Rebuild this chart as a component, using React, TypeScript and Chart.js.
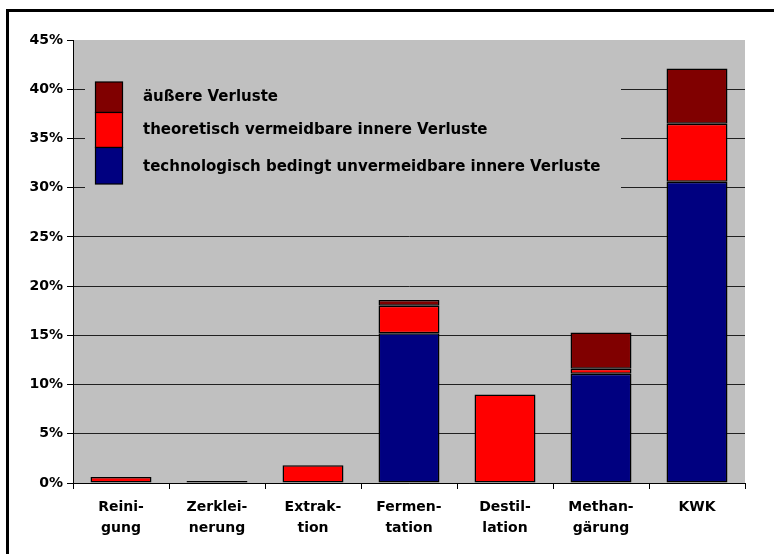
import React, { useEffect, useRef } from 'react';
import { Chart, registerables } from 'chart.js';
Chart.register(...registerables);

const categories: string[][] = [
  ['Reini-', 'gung'],
  ['Zerklei-', 'nerung'],
  ['Extrak-', 'tion'],
  ['Fermen-', 'tation'],
  ['Destil-', 'lation'],
  ['Methan-', 'gärung'],
  ['KWK'],
];
const labelTechnologisch = 'technologisch bedingt unvermeidbare innere Verluste';
const labelTheoretisch = 'theoretisch vermeidbare innere Verluste';
const labelAeussere = 'äußere Verluste';

const technologisch: (number | null)[] = [null, null, null, 15.2, null, 11.1, 30.6];
const theoretisch: (number | null)[] = [0.6, 0.2, 1.8, 2.8, 9.0, 0.5, 5.9];
const aeussere: (number | null)[] = [null, null, null, 0.6, null, 3.7, 5.6];

const yMin = 0;
const yMax = 45;
const yStep = 5;

const FONT = '"DejaVu Sans", Verdana, sans-serif';

const framePlugin = {
  id: 'frame',
  beforeDraw(chart: any) {
    const { ctx, width, height, chartArea } = chart;
    ctx.save();
    ctx.fillStyle = '#ffffff';
    ctx.fillRect(0, 0, width, height);
    ctx.strokeStyle = '#000000';
    ctx.lineWidth = 3;
    ctx.strokeRect(7.5, 10.5, width + 20, height + 20);
    ctx.fillStyle = '#c0c0c0';
    ctx.fillRect(chartArea.left, chartArea.top, chartArea.right - chartArea.left, chartArea.bottom - chartArea.top);
    ctx.restore();
  },
};

const legendPlugin = {
  id: 'stackLegend',
  afterDatasetsDraw(chart: any) {
    const { ctx } = chart;
    const ds = chart.data.datasets;
    ctx.save();
    ctx.fillStyle = '#c0c0c0';
    ctx.fillRect(85, 72, 536, 123);
    const rows = [
      { i: 2, top: 82, bottom: 112.5, ty: 97 },
      { i: 1, top: 112.5, bottom: 147.5, ty: 130 },
      { i: 0, top: 147.5, bottom: 184, ty: 167 },
    ];
    ctx.font = `bold 15px ${FONT}`;
    ctx.textBaseline = 'middle';
    ctx.textAlign = 'left';
    for (const r of rows) {
      ctx.fillStyle = ds[r.i].backgroundColor;
      ctx.fillRect(95, r.top, 27, r.bottom - r.top);
      ctx.strokeStyle = '#000';
      ctx.lineWidth = 1.2;
      ctx.strokeRect(95.5, r.top, 27, r.bottom - r.top);
      ctx.fillStyle = '#000';
      ctx.fillText(ds[r.i].label, 143, r.ty);
    }
    ctx.restore();
  },
};

export default function App() {
  const ref = useRef<HTMLCanvasElement | null>(null);
  useEffect(() => {
    if (!ref.current) return;
    const common = {
      borderColor: '#000000',
      borderWidth: 1.5,
      borderSkipped: false,
      barPercentage: 0.635,
      categoryPercentage: 1,
    };
    const chart = new Chart(ref.current, {
      type: 'bar',
      data: {
        labels: categories,
        datasets: [
          { label: labelTechnologisch, data: technologisch, backgroundColor: '#000080', ...common },
          { label: labelTheoretisch, data: theoretisch, backgroundColor: '#ff0000', ...common },
          { label: labelAeussere, data: aeussere, backgroundColor: '#800000', ...common },
        ],
      },
      options: {
        animation: false,
        responsive: false,
        maintainAspectRatio: false,
        layout: { padding: { left: 0, right: 29, top: 40, bottom: 0 } },
        plugins: { legend: { display: false }, tooltip: { enabled: false } },
        scales: {
          x: {
            stacked: true,
            grid: { display: true, offset: true, drawOnChartArea: false, color: '#000', tickLength: 6 },
            border: { display: true, color: '#000' },
            ticks: { color: '#000', font: { family: FONT, size: 14, weight: 'bold', lineHeight: 1.5 }, padding: 8, maxRotation: 0, autoSkip: false },
            afterFit(scale: any) { scale.height = 71; },
          },
          y: {
            stacked: true,
            min: yMin,
            max: yMax,
            grid: {
              color: (c: any) => (c.tick && c.tick.value === yMax ? 'rgba(0,0,0,0)' : '#202020'),
              tickColor: '#000',
              tickLength: 6,
            },
            border: { display: true, color: '#000' },
            ticks: {
              stepSize: yStep,
              color: '#000',
              font: { family: FONT, size: 14, weight: 'bold' },
              padding: 4,
              callback: (v: any) => `${v}%`,
            },
            afterFit(scale: any) { scale.width = 73; },
          },
        },
      },
      plugins: [framePlugin, legendPlugin],
    });
    return () => chart.destroy();
  }, []);
  return (
    <div style={{ position: 'absolute', left: 0, top: 0, width: 774, height: 554 }}>
      <canvas ref={ref} width={774} height={554} style={{ width: 774, height: 554 }} />
    </div>
  );
}
